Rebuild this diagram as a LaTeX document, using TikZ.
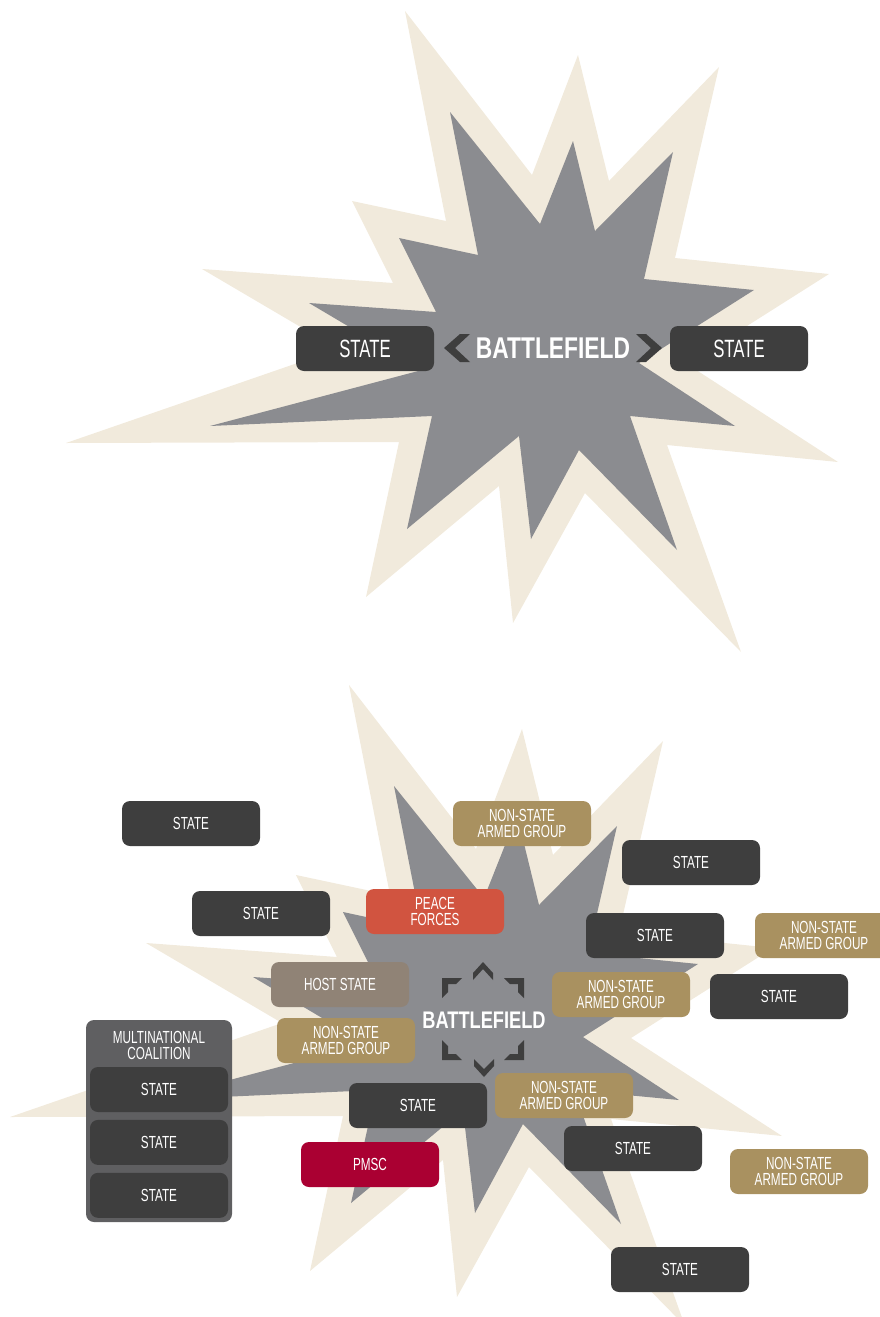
\documentclass[tikz,border=0pt]{standalone}
\usepackage{fontspec}
\setmainfont{Liberation Sans}[FakeStretch=0.67]
\newfontfamily\fieldfont{Liberation Sans}[FakeStretch=0.76]
\usepackage{tikz}
\usetikzlibrary{positioning}

\definecolor{blastbeige}{HTML}{F1EADC}
\definecolor{blastgray}{HTML}{8B8C90}
\definecolor{stategray}{HTML}{3E3E3E}
\definecolor{groupgold}{HTML}{A99160}
\definecolor{peacered}{HTML}{D15440}
\definecolor{hostbrown}{HTML}{908376}
\definecolor{pmscred}{HTML}{AA0032}
\definecolor{coalgray}{HTML}{5F5F61}

\newcommand{\blastouter}{(405,11) -- (532,175) -- (578,55) -- (609,181) -- (719,67) -- (675,258) -- (829,274) -- (687,364) -- (838,462) -- (667,445) -- (741,652) -- (585,493) -- (513,623) -- (499,486) -- (366,597) -- (399,442) -- (66,443) -- (338,349) -- (202,269) -- (393,283) -- (352,201) -- (446,221) -- cycle}
\newcommand{\blastinner}{(450,112) -- (540,224) -- (573,141) -- (595,231) -- (673,152) -- (644,279) -- (754,290) -- (639,363) -- (735,426) -- (630,416) -- (677,550) -- (579,450) -- (531,539) -- (519,436) -- (407,529) -- (432,416) -- (210,426) -- (422,370) -- (309,303) -- (436,312) -- (399,238) -- (478,255) -- cycle}
\newcommand{\boxtext}{\fontsize{17.5}{16}\selectfont}
\newcommand{\bigtext}{\fontsize{25}{27}\selectfont}

\begin{document}
\begin{tikzpicture}[x=1pt, y=-1pt,
    actor/.style={rounded corners=8pt, minimum width=138pt, minimum height=45pt, inner sep=0pt,
                  text=white, align=center, font=\boxtext},
    statebox/.style={actor, fill=stategray},
    groupbox/.style={actor, fill=groupgold},
    peacebox/.style={actor, fill=peacered},
    hostbox/.style={actor, fill=hostbrown},
    pmscbox/.style={actor, fill=pmscred},
    fieldtext/.style={text=white, font=\fieldfont\bfseries\fontsize{24}{26}\selectfont, inner sep=0pt},
    chev/.style={fill=stategray}]
    \useasboundingbox (0,0) rectangle (880,1317);

    \fill[blastbeige] \blastouter;
    \fill[blastgray] \blastinner;
    \begin{scope}[shift={(-56,674)}]
        \fill[blastbeige] \blastouter;
        \fill[blastgray] \blastinner;
    \end{scope}

    \node[statebox, font=\bigtext] (topL) at (365,348.5) {STATE};
    \node[statebox, font=\bigtext] (topR) at (739,348.5) {STATE};
    \node[fieldtext, font=\fieldfont\bfseries\fontsize{30}{32}\selectfont] (fieldA) at (553,348) {BATTLEFIELD};
    \fill[chev] (460,334) -- (444,348) -- (460,362) -- (470,362) -- (455,348) -- (470,334) -- cycle;
    \fill[chev] (646,334) -- (662,348) -- (646,362) -- (636,362) -- (651,348) -- (636,334) -- cycle;

    \node[statebox] (st1) at (191,823.5) {STATE};
    \node[groupbox] (ng1) at (522,823.5) {NON-STATE\\ARMED GROUP};
    \node[statebox] (st2) at (691,862.5) {STATE};
    \node[statebox] (st3) at (261,913.5) {STATE};
    \node[peacebox] (peace) at (435,911.5) {PEACE\\FORCES};
    \node[statebox] (st4) at (655,935.5) {STATE};
    \node[groupbox] (ng2) at (824,935.5) {NON-STATE\\ARMED GROUP};
    \node[hostbox] (host) at (340,984.5) {HOST STATE};
    \node[groupbox] (ng3) at (621,994.5) {NON-STATE\\ARMED GROUP};
    \node[statebox] (st5) at (779,996.5) {STATE};
    \node[groupbox] (ng4) at (346,1040.5) {NON-STATE\\ARMED GROUP};
    \node[statebox] (st6) at (418,1105.5) {STATE};
    \node[groupbox] (ng5) at (564,1095.5) {NON-STATE\\ARMED GROUP};
    \node[statebox] (st7) at (633,1148.5) {STATE};
    \node[pmscbox] (pmsc) at (370,1164.5) {PMSC};
    \node[groupbox] (ng6) at (799,1171.5) {NON-STATE\\ARMED GROUP};
    \node[statebox] (st8) at (680,1269.5) {STATE};

    \node[actor, fill=coalgray, minimum width=146pt, minimum height=202pt] (coal) at (159,1121) {};
    \node[text=white, font=\boxtext, align=center, inner sep=0pt] (coaltitle) at (159,1045) {MULTINATIONAL\\COALITION};
    \node[statebox] (cst1) at (159,1089.5) {STATE};
    \node[statebox, below=7.5pt of cst1] (cst2) {STATE};
    \node[statebox, below=7.5pt of cst2] (cst3) {STATE};

    \node[fieldtext] (fieldB) at (484,1020) {BATTLEFIELD};
    \fill[chev] (473,973) -- (483,962) -- (493,973) -- (493,980) -- (483,969) -- (473,980) -- cycle;
    \fill[chev] (474,1059) -- (484,1069) -- (494,1059) -- (494,1066) -- (484,1077) -- (474,1066) -- cycle;
    \fill[chev, shift={(442,978)}] (0,0) -- (20,0) -- (14,6) -- (6,6) -- (6,14) -- (0,20) -- cycle;
    \fill[chev, shift={(524,978)}, xscale=-1] (0,0) -- (20,0) -- (14,6) -- (6,6) -- (6,14) -- (0,20) -- cycle;
    \fill[chev, shift={(442,1060)}, yscale=-1] (0,0) -- (20,0) -- (14,6) -- (6,6) -- (6,14) -- (0,20) -- cycle;
    \fill[chev, shift={(524,1060)}, scale=-1] (0,0) -- (20,0) -- (14,6) -- (6,6) -- (6,14) -- (0,20) -- cycle;
\end{tikzpicture}
\end{document}
